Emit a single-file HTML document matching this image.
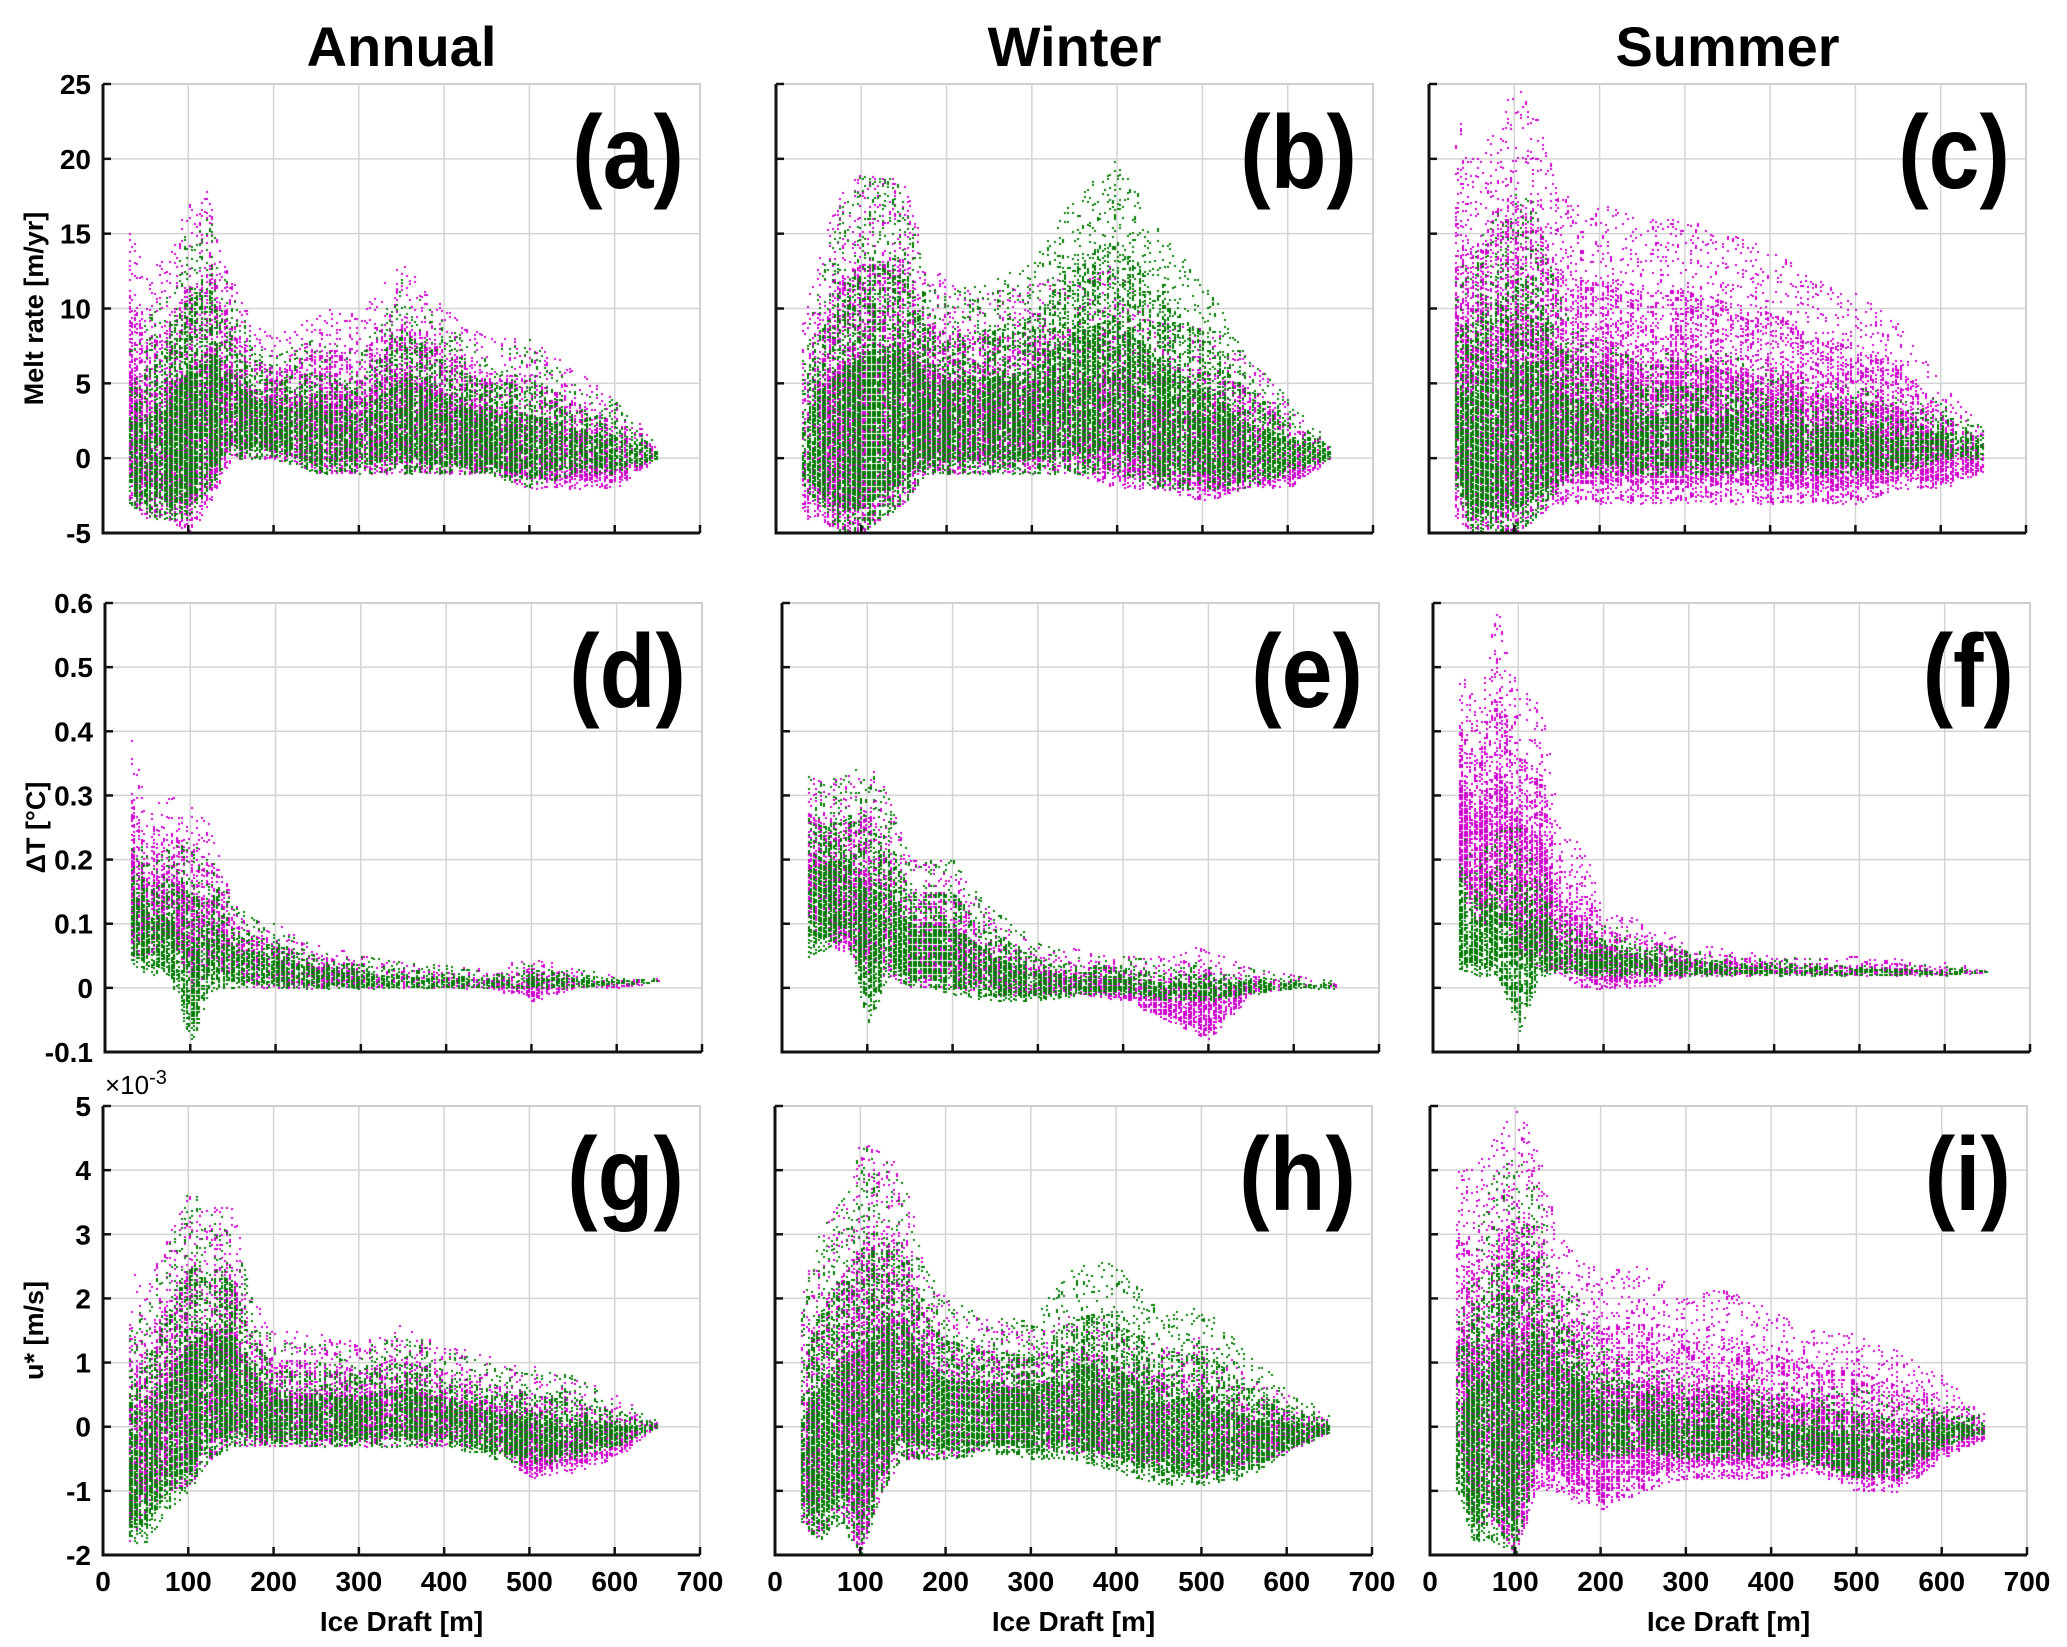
<!DOCTYPE html>
<html><head><meta charset="utf-8"><style>
html,body{margin:0;padding:0;background:#fff;}
#wrap{position:relative;width:2067px;height:1647px;overflow:hidden;font-family:"Liberation Sans",sans-serif;}
svg,canvas{position:absolute;left:0;top:0;}
</style></head><body>
<div id="wrap">
<svg id="sv" width="2067" height="1647"></svg>
<canvas id="cv" width="2067" height="1647"></canvas>
<svg id="sv2" width="2067" height="1647"></svg>
</div>
<script>
// ---- data (envelopes) ----
const xNodes = [30,50,75,100,125,150,175,200,250,300,350,400,450,500,550,600,650];
const xTicks = [0,100,200,300,400,500,600,700];
const colTitles = ["Annual","Winter","Summer"];
const panelLetters = ["(a)","(b)","(c)","(d)","(e)","(f)","(g)","(h)","(i)"];
const yTicksRow1 = [-5,0,5,10,15,20,25];
const yTicksRow2 = [-0.1,0,0.1,0.2,0.3,0.4,0.5,0.6];
const yTicksRow3 = [-2,-1,0,1,2,3,4,5];
const yLabels = ["Melt rate [m/yr]","\u0394T [\u00B0C]","u* [m/s]"];

const aMagLo=[-3,-4,-4,-5,-3,0,0,0,-1,-1,-1,-1,-1,-2,-2,-2,0];
const aMagHi=[16,12,14,17,18,12,9,8,10,10,13,10,8,8,6,4,1];
const aGrnLo=[-3,-4,-4,-4,-2,0,0,0,-1,-1,-1,-1,-1,-2,-1,-1,0];
const aGrnHi=[8,9,12,16,16,11,8,7,8,7,12,9,7,8,5,4,1];

const bMagLo=[-4,-4,-5,-5,-4,-3,-1,-1,-1,-1,-1,-2,-2,-3,-2,-2,0];
const bMagHi=[9,14,18,19,19,19,13,12,11,12,12,13,9,9,7,4,1];
const bGrnLo=[-2,-3,-5,-5,-4,-3,-1,-1,-1,-1,-1,-1,-2,-2,-2,-1,0];
const bGrnHi=[7,12,17,19,19,18,12,11,12,13,18,20,15,12,7,4,1];

const cMagLo=[-4,-5,-5,-5,-4,-3,-3,-3,-3,-3,-3,-3,-3,-3,-2,-2,-1];
const cMagHi=[24,20,22,25,23,18,17,17,16,16,15,14,12,11,9,5,2];
const cGrnLo=[-2,-5,-5,-5,-4,-2,-1,-1,-1,-1,-1,-1,-1,-1,-1,0,0];
const cGrnHi=[12,14,16,18,17,11,9,8,7,7,7,6,5,5,4,4,2];

const dMagLo=[0.05,0.05,0.08,0.0,0.03,0.02,0,0,0,0,0,0,0,-0.02,0,0,0.01];
const dMagHi=[0.39,0.28,0.30,0.29,0.25,0.13,0.11,0.10,0.07,0.05,0.04,0.035,0.03,0.05,0.03,0.02,0.015];
const dGrnLo=[0.04,0.02,0.02,-0.09,0,0,0,0,0,0,0,0,0,0,0,0.005,0.01];
const dGrnHi=[0.25,0.20,0.22,0.23,0.20,0.13,0.11,0.10,0.06,0.05,0.04,0.035,0.03,0.04,0.03,0.02,0.015];

const eMagLo=[0.10,0.07,0.05,0.02,0.02,0,0,0,-0.01,-0.01,-0.01,-0.02,-0.05,-0.08,-0.01,0,0];
const eMagHi=[0.33,0.32,0.33,0.35,0.30,0.20,0.20,0.20,0.10,0.07,0.06,0.05,0.05,0.07,0.03,0.02,0.01];
const eGrnLo=[0.05,0.06,0.08,-0.06,0.02,0,0,-0.01,-0.02,-0.02,-0.01,-0.01,-0.02,-0.02,-0.01,0,0];
const eGrnHi=[0.33,0.32,0.34,0.35,0.30,0.20,0.20,0.20,0.12,0.07,0.05,0.05,0.04,0.04,0.03,0.02,0.01];

const fMagLo=[0.15,0.10,0.10,0.05,0.03,0.02,0,0,0,0.02,0.02,0.02,0.02,0.02,0.02,0.02,0.025];
const fMagHi=[0.50,0.45,0.60,0.47,0.45,0.25,0.22,0.13,0.10,0.07,0.06,0.05,0.05,0.05,0.045,0.04,0.03];
const fGrnLo=[0.03,0.02,0.02,-0.07,0.02,0.02,0.02,0.02,0.02,0.02,0.02,0.02,0.02,0.02,0.02,0.02,0.025];
const fGrnHi=[0.25,0.20,0.25,0.25,0.20,0.12,0.10,0.10,0.08,0.06,0.05,0.05,0.045,0.04,0.04,0.035,0.03];

const gMagLo=[-1.8,-1.3,-1,-0.9,-0.5,-0.3,-0.3,-0.3,-0.3,-0.3,-0.3,-0.3,-0.3,-0.8,-0.7,-0.5,0];
const gMagHi=[2.5,2.2,3,3.6,3.5,3.5,2,1.5,1.5,1.3,1.6,1.3,1.1,1,0.8,0.5,0.1];
const gGrnLo=[-1.8,-1.8,-1.3,-1,-0.5,-0.3,-0.3,-0.3,-0.3,-0.3,-0.3,-0.3,-0.5,-0.6,-0.5,-0.3,0];
const gGrnHi=[1.5,2,2.8,3.7,3.4,3.2,2,1.3,1.3,1.2,1.5,1.2,1.0,0.9,0.8,0.4,0.1];

const hMagLo=[-1.5,-1.8,-1.3,-2,-1,-0.5,-0.5,-0.5,-0.3,-0.3,-0.4,-0.5,-0.6,-0.8,-0.6,-0.4,-0.1];
const hMagHi=[2,3,3.5,4.5,4.3,4,2.5,2,1.7,1.5,1.8,1.6,1.3,1.4,0.9,0.5,0.2];
const hGrnLo=[-1.5,-1.8,-1.5,-2,-1,-0.5,-0.5,-0.5,-0.4,-0.5,-0.5,-0.7,-0.9,-0.9,-0.8,-0.4,-0.1];
const hGrnHi=[1.8,3,3.5,4.4,4.2,3.8,2.5,2,1.7,1.7,2.5,2.6,1.8,1.9,1.2,0.6,0.2];

const iMagLo=[-0.5,-1.5,-1.5,-2,-1,-1,-1.2,-1.3,-1,-0.8,-0.8,-0.8,-0.7,-1,-1,-0.5,-0.2];
const iMagHi=[4.2,4,4.5,5,4.5,3,2.6,2.5,2.5,2,2.2,1.8,1.5,1.5,1.2,0.8,0.2];
const iGrnLo=[-1,-1.8,-1.8,-2,-0.5,-0.5,-0.5,-0.5,-0.4,-0.5,-0.5,-0.5,-0.6,-0.8,-0.8,-0.3,-0.1];
const iGrnHi=[1.5,3,4,4.2,3.8,2.5,2,1.3,1.0,0.8,0.8,0.7,0.6,0.6,0.5,0.4,0.2];

// ---- layout ----
const PW=597, PH=449;
const rowTops=[84,603,1106];
const colLefts=[[103,776,1429],[105,782,1433],[103,775,1430]];
const rowTicks=[yTicksRow1,yTicksRow2,yTicksRow3];
const series=[[aMagLo,aMagHi,aGrnLo,aGrnHi],[bMagLo,bMagHi,bGrnLo,bGrnHi],[cMagLo,cMagHi,cGrnLo,cGrnHi],
 [dMagLo,dMagHi,dGrnLo,dGrnHi],[eMagLo,eMagHi,eGrnLo,eGrnHi],[fMagLo,fMagHi,fGrnLo,fGrnHi],
 [gMagLo,gMagHi,gGrnLo,gGrnHi],[hMagLo,hMagHi,hGrnLo,hGrnHi],[iMagLo,iMagHi,iGrnLo,iGrnHi]];

const NS="http://www.w3.org/2000/svg";
const sv=document.getElementById('sv');
const sv2=document.getElementById('sv2');
const ctx=document.getElementById('cv').getContext('2d');
function mk(tag,attrs,parent){const e=document.createElementNS(NS,tag);for(const k in attrs)e.setAttribute(k,attrs[k]);(parent||sv).appendChild(e);return e;}
// deterministic hash used only for visual thinning of dots
function hsh(a,b){let h=(a*374761393+b*668265263)|0;h=(h^(h>>>13))*1274126177|0;return ((h^(h>>>16))>>>0)/4294967296;}
function envAt(arr,x){
  if(x<=xNodes[0])return arr[0];
  for(let k=0;k<xNodes.length-1;k++){if(x<=xNodes[k+1]){const t=(x-xNodes[k])/(xNodes[k+1]-xNodes[k]);return arr[k]+(arr[k+1]-arr[k])*t;}}
  return arr[arr.length-1];
}

colTitles.forEach((t,c)=>{
  const e=mk('text',{x:colLefts[0][c]+PW/2,y:66,'text-anchor':'middle','font-size':56,'font-weight':'bold'},sv2);
  e.textContent=t;
  
  
});

for(let r=0;r<3;r++){
  const ticks=rowTicks[r];
  const ymin=ticks[0], ymax=ticks[ticks.length-1];
  for(let c=0;c<3;c++){
    const L=colLefts[r][c], T=rowTops[r];
    const xs=v=>L+v/700*PW;
    const ys=v=>T+PH-(v-ymin)/(ymax-ymin)*PH;
    const g=mk('g',{});
    
    
    xTicks.forEach(v=>{ if(v>0&&v<700){const l=mk('line',{x1:xs(v),x2:xs(v),y1:T,y2:T+PH,stroke:'#d4d4d4','stroke-width':1.5},g);
      }});
    ticks.forEach(v=>{ if(v>ymin&&v<ymax){const l=mk('line',{x1:L,x2:L+PW,y1:ys(v),y2:ys(v),stroke:'#d4d4d4','stroke-width':1.5},g);
      }});
    mk('path',{d:`M${L} ${T}H${L+PW}V${T+PH}`,fill:'none',stroke:'#cfcfcf','stroke-width':2},g);
    const g2=mk('g',{},sv2);
    const ax=mk('path',{d:`M${L} ${T}V${T+PH}H${L+PW}`,fill:'none',stroke:'#111','stroke-width':3},g2);
    
    xTicks.forEach(v=>mk('line',{x1:xs(v),x2:xs(v),y1:T+PH,y2:T+PH-8,stroke:'#111','stroke-width':2.5},g2));
    ticks.forEach(v=>mk('line',{x1:L,x2:L+8,y1:ys(v),y2:ys(v),stroke:'#111','stroke-width':2.5},g2));
    if(c===0){
      ticks.forEach(v=>{const t=mk('text',{x:L-12,y:ys(v)+10,'text-anchor':'end','font-size':28,'font-weight':'bold'},g2);
        t.textContent=String(v);
        });
      const yl=mk('text',{x:0,y:0,transform:`translate(${L-60},${T+PH/2}) rotate(-90)`,'text-anchor':'middle','font-size':27,'font-weight':'bold'},g2);
      yl.textContent=yLabels[r];
      
    }
    if(r===2){
      xTicks.forEach(v=>{const t=mk('text',{x:xs(v),y:T+PH+36,'text-anchor':'middle','font-size':28,'font-weight':'bold'},g2);
        t.textContent=String(v);
        });
      const xl=mk('text',{x:L+PW/2,y:T+PH+76,'text-anchor':'middle','font-size':28,'font-weight':'bold'},g2);
      xl.textContent='Ice Draft [m]';
      
      if(c===0){const ex=mk('text',{x:L+2,y:T-12,'font-size':26},g2);ex.innerHTML='\u00D710<tspan dy="-10" font-size="20">-3</tspan>';
        }
    }
    const pl=mk('text',{x:L+PW-16,y:T+104,'text-anchor':'end','font-size':104,'font-weight':'bold',transform:`translate(${(L+PW-16)*0.12},0) scale(0.88,1)`},g2);
    pl.textContent=panelLetters[r*3+c];
    

    // scatter
    const [mLo,mHi,gLo,gHi]=series[r*3+c];
    ctx.save();ctx.beginPath();ctx.rect(L,T,PW,PH);ctx.clip();
    [[mLo,mHi,'#cc00cc'],[gLo,gHi,'#007a00']].forEach(([lo,hi,col],si)=>{
      ctx.fillStyle=col;
      const pa=xs(xNodes[0]), pb=xs(xNodes[xNodes.length-1]);
      let sc=0;
      for(let px=pa;px<=pb;px+=2.5,sc++){
        const xv=(px-L)/PW*700;
        const ya=ys(envAt(hi,xv)), yb=ys(envAt(lo,xv));
        const len=Math.max(yb-ya,1);
        const colDense=hsh(sc,si*7+r*3+c)<0.6;
        let j=0;
        for(let py=ya;py<=yb;py+=2.3,j++){
          const t=(py-ya)/len;
          let p;
          if(t>0.5&&t<0.93) p=colDense?0.92:0.55;
          else if(t>0.25) p=colDense?0.5:0.25;
          else p=0.12;
          if(hsh(sc*131+j,si+1+r*11+c*5)<p) ctx.fillRect(Math.round(px),Math.round(py),2,2);
        }
      }
    });
    ctx.restore();
  }
}
</script>
</body></html>
